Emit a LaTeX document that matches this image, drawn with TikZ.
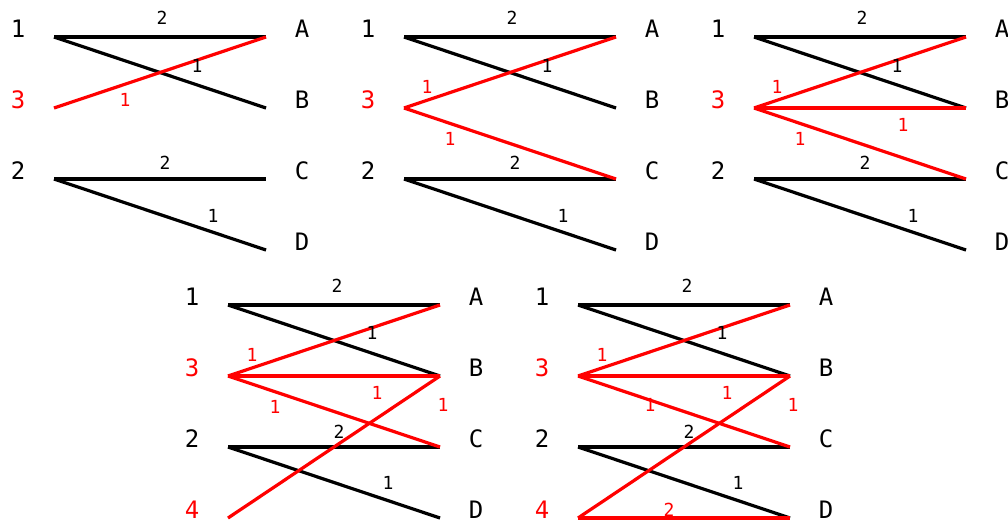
\documentclass[tikz,border=0pt]{standalone}
\usepackage{fontspec}
\setmainfont{DejaVu Sans Mono}
\begin{document}
\begin{tikzpicture}[x=1pt,y=-1pt,
  vlab/.style={font=\fontsize{24}{24}\selectfont, anchor=base, inner sep=0pt},
  elab/.style={font=\fontsize{18}{18}\selectfont, inner sep=0pt},
  edge/.style={line width=3.2pt},
  redge/.style={edge, red}]
\useasboundingbox (0,0) rectangle (1008,525);
% ---------- panel 1
\begin{scope}[shift={(0,0)}, name prefix=p1-]
  \coordinate (u1) at (54,37); \coordinate (u3) at (54,108); \coordinate (u2) at (54,179);
  \coordinate (A) at (266,37); \coordinate (B) at (266,108); \coordinate (C) at (266,179); \coordinate (D) at (266,250);
  \node[vlab] (t1) at (18,37) {1};
  \node[vlab,red] (t3) at (18,108) {3};
  \node[vlab] (t2) at (18,179) {2};
  \node[vlab] (tA) at (302,37) {A};
  \node[vlab] (tB) at (302,108) {B};
  \node[vlab] (tC) at (302,179) {C};
  \node[vlab] (tD) at (302,250) {D};
  \draw[edge] (u1) -- (A); \draw[edge] (u1) -- (B);
  \draw[edge] (u2) -- (C); \draw[edge] (u2) -- (D);
  \draw[redge] (u3) -- (A);
  \node[elab] (e1A) at (162,18) {2};
  \node[elab] (e1B) at (197,66) {1};
  \node[elab] (e2C) at (165,163) {2};
  \node[elab] (e2D) at (213,216) {1};
  \node[elab,red] (e3A) at (125,100) {1};
\end{scope}
% ---------- panel 2
\begin{scope}[shift={(350,0)}, name prefix=p2-]
  \coordinate (u1) at (54,37); \coordinate (u3) at (54,108); \coordinate (u2) at (54,179);
  \coordinate (A) at (266,37); \coordinate (B) at (266,108); \coordinate (C) at (266,179); \coordinate (D) at (266,250);
  \node[vlab] (t1) at (18,37) {1};
  \node[vlab,red] (t3) at (18,108) {3};
  \node[vlab] (t2) at (18,179) {2};
  \node[vlab] (tA) at (302,37) {A};
  \node[vlab] (tB) at (302,108) {B};
  \node[vlab] (tC) at (302,179) {C};
  \node[vlab] (tD) at (302,250) {D};
  \draw[edge] (u1) -- (A); \draw[edge] (u1) -- (B);
  \draw[edge] (u2) -- (C); \draw[edge] (u2) -- (D);
  \draw[redge] (u3) -- (A); \draw[redge] (u3) -- (C);
  \node[elab] (e1A) at (162,18) {2};
  \node[elab] (e1B) at (197,66) {1};
  \node[elab] (e2C) at (165,163) {2};
  \node[elab] (e2D) at (213,216) {1};
  \node[elab,red] (e3A) at (77,87) {1};
  \node[elab,red] (e3C) at (100,139) {1};
\end{scope}
% ---------- panel 3
\begin{scope}[shift={(700,0)}, name prefix=p3-]
  \coordinate (u1) at (54,37); \coordinate (u3) at (54,108); \coordinate (u2) at (54,179);
  \coordinate (A) at (266,37); \coordinate (B) at (266,108); \coordinate (C) at (266,179); \coordinate (D) at (266,250);
  \node[vlab] (t1) at (18,37) {1};
  \node[vlab,red] (t3) at (18,108) {3};
  \node[vlab] (t2) at (18,179) {2};
  \node[vlab] (tA) at (302,37) {A};
  \node[vlab] (tB) at (302,108) {B};
  \node[vlab] (tC) at (302,179) {C};
  \node[vlab] (tD) at (302,250) {D};
  \draw[edge] (u1) -- (A); \draw[edge] (u1) -- (B);
  \draw[edge] (u2) -- (C); \draw[edge] (u2) -- (D);
  \draw[redge] (u3) -- (A); \draw[redge] (u3) -- (B); \draw[redge] (u3) -- (C);
  \node[elab] (e1A) at (162,18) {2};
  \node[elab] (e1B) at (197,66) {1};
  \node[elab] (e2C) at (165,163) {2};
  \node[elab] (e2D) at (213,216) {1};
  \node[elab,red] (e3A) at (77,87) {1};
  \node[elab,red] (e3B) at (203,125) {1};
  \node[elab,red] (e3C) at (100,139) {1};
\end{scope}
% ---------- panel 4
\begin{scope}[shift={(174,268)}, name prefix=p4-]
  \coordinate (u1) at (54,37); \coordinate (u3) at (54,108); \coordinate (u2) at (54,179); \coordinate (u4) at (54,250);
  \coordinate (A) at (266,37); \coordinate (B) at (266,108); \coordinate (C) at (266,179); \coordinate (D) at (266,250);
  \node[vlab] (t1) at (18,37) {1};
  \node[vlab,red] (t3) at (18,108) {3};
  \node[vlab] (t2) at (18,179) {2};
  \node[vlab,red] (t4) at (18,250) {4};
  \node[vlab] (tA) at (302,37) {A};
  \node[vlab] (tB) at (302,108) {B};
  \node[vlab] (tC) at (302,179) {C};
  \node[vlab] (tD) at (302,250) {D};
  \draw[edge] (u1) -- (A); \draw[edge] (u1) -- (B);
  \draw[edge] (u2) -- (C); \draw[edge] (u2) -- (D);
  \draw[redge] (u3) -- (A); \draw[redge] (u3) -- (B); \draw[redge] (u3) -- (C);
  \draw[redge] (u4) -- (B);
  \node[elab] (e1A) at (163,18) {2};
  \node[elab] (e1B) at (198,65) {1};
  \node[elab] (e2C) at (165,164) {2};
  \node[elab] (e2D) at (214,215) {1};
  \node[elab,red] (e3A) at (78,87) {1};
  \node[elab,red] (e3B) at (203,125) {1};
  \node[elab,red] (e3C) at (101,139) {1};
  \node[elab,red] (e4B) at (269,137) {1};
\end{scope}
% ---------- panel 5
\begin{scope}[shift={(524,268)}, name prefix=p5-]
  \coordinate (u1) at (54,37); \coordinate (u3) at (54,108); \coordinate (u2) at (54,179); \coordinate (u4) at (54,250);
  \coordinate (A) at (266,37); \coordinate (B) at (266,108); \coordinate (C) at (266,179); \coordinate (D) at (266,250);
  \node[vlab] (t1) at (18,37) {1};
  \node[vlab,red] (t3) at (18,108) {3};
  \node[vlab] (t2) at (18,179) {2};
  \node[vlab,red] (t4) at (18,250) {4};
  \node[vlab] (tA) at (302,37) {A};
  \node[vlab] (tB) at (302,108) {B};
  \node[vlab] (tC) at (302,179) {C};
  \node[vlab] (tD) at (302,250) {D};
  \draw[edge] (u1) -- (A); \draw[edge] (u1) -- (B);
  \draw[edge] (u2) -- (C); \draw[edge] (u2) -- (D);
  \draw[redge] (u3) -- (A); \draw[redge] (u3) -- (B); \draw[redge] (u3) -- (C);
  \draw[redge] (u4) -- (B); \draw[redge] (u4) -- (D);
  \node[elab] (e1A) at (163,18) {2};
  \node[elab] (e1B) at (198,65) {1};
  \node[elab] (e2C) at (165,164) {2};
  \node[elab] (e2D) at (214,215) {1};
  \node[elab,red] (e3A) at (78,87) {1};
  \node[elab,red] (e3B) at (203,125) {1};
  \node[elab,red] (e3C) at (126,137) {1};
  \node[elab,red] (e4B) at (269,137) {1};
  \node[elab,red] (e4D) at (145,242) {2};
\end{scope}
\end{tikzpicture}
\end{document}
